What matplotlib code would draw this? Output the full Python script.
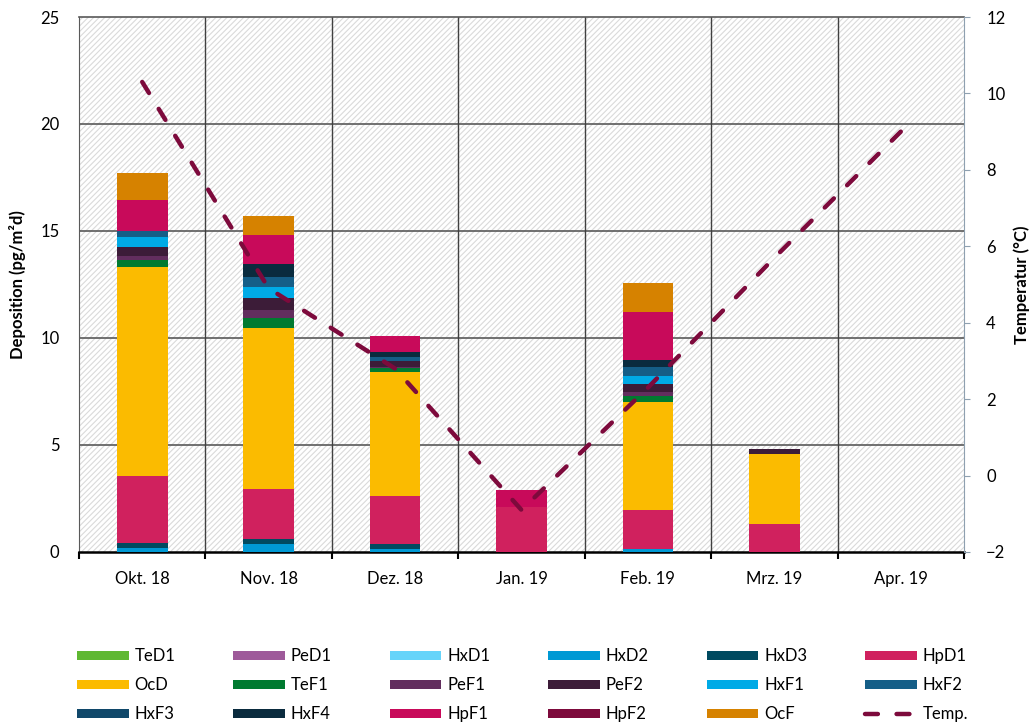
import numpy as np
import matplotlib
matplotlib.use('Agg')
import matplotlib.pyplot as plt
from matplotlib.patches import Patch, Rectangle
from matplotlib.lines import Line2D

plt.rcParams['font.family'] = ['Lato', 'DejaVu Sans']
plt.rcParams['hatch.linewidth'] = 0.8
plt.rcParams['hatch.color'] = '#dadada'

months = ['Okt. 18', 'Nov. 18', 'Dez. 18', 'Jan. 19', 'Feb. 19', 'Mrz. 19', 'Apr. 19']

# Deposition (pg/m²d), one list per congener, stacked bottom to top
TeD1 = [0.0, 0.0, 0.0, 0.0, 0.0, 0.0, 0.0]
PeD1 = [0.0, 0.0, 0.0, 0.0, 0.0, 0.0, 0.0]
HxD1 = [0.0, 0.0, 0.0, 0.0, 0.0, 0.0, 0.0]
HxD2 = [0.20, 0.39, 0.16, 0.0, 0.13, 0.0, 0.0]
HxD3 = [0.21, 0.20, 0.20, 0.0, 0.0, 0.0, 0.0]
HpD1 = [3.12, 2.34, 2.25, 2.11, 1.82, 1.33, 0.0]
OcD = [9.78, 7.55, 5.80, 0.0, 5.04, 3.24, 0.0]
TeF1 = [0.33, 0.47, 0.18, 0.0, 0.31, 0.0, 0.0]
PeF1 = [0.19, 0.36, 0.04, 0.0, 0.19, 0.0, 0.0]
PeF2 = [0.44, 0.58, 0.28, 0.0, 0.36, 0.24, 0.0]
HxF1 = [0.44, 0.50, 0.0, 0.0, 0.38, 0.0, 0.0]
HxF2 = [0.31, 0.48, 0.22, 0.0, 0.43, 0.0, 0.0]
HxF3 = [0.0, 0.0, 0.0, 0.0, 0.0, 0.0, 0.0]
HxF4 = [0.0, 0.59, 0.21, 0.0, 0.31, 0.0, 0.0]
HpF1 = [1.42, 1.36, 0.77, 0.78, 2.24, 0.0, 0.0]
HpF2 = [0.0, 0.0, 0.0, 0.0, 0.0, 0.0, 0.0]
OcF = [1.25, 0.89, 0.0, 0.0, 1.36, 0.0, 0.0]

temp = [10.3, 4.9, 2.8, -0.9, 2.3, 5.7, 9.0]

names = ['TeD1', 'PeD1', 'HxD1', 'HxD2', 'HxD3', 'HpD1', 'OcD', 'TeF1', 'PeF1',
         'PeF2', 'HxF1', 'HxF2', 'HxF3', 'HxF4', 'HpF1', 'HpF2', 'OcF']
series = [TeD1, PeD1, HxD1, HxD2, HxD3, HpD1, OcD, TeF1, PeF1,
          PeF2, HxF1, HxF2, HxF3, HxF4, HpF1, HpF2, OcF]
colors = ['#5fb832', '#9e5a9a', '#66d4fa', '#0099d4', '#004a60', '#d0215e',
          '#fbbb00', '#007a30', '#622e5e', '#3c1c38', '#00aae6', '#155e87',
          '#10486a', '#0a2b3e', '#c80a5a', '#7d0a3c', '#d68200']
temp_color = '#7d0a3c'

fig = plt.figure(figsize=(10.35, 7.27), dpi=100)
ax = fig.add_axes([79/1035, 1-552/727, (964-79)/1035, (552-17)/727])
x = np.arange(len(months))

# hatched plot background
ax.add_patch(Rectangle((0, 0), 1, 1, transform=ax.transAxes, facecolor='white',
                       edgecolor='#dadada', hatch='//////', lw=0, zorder=0))

bottom = np.zeros(len(months))
for name, vals, c in zip(names, series, colors):
    ax.bar(x, vals, 0.4, bottom=bottom, color=c, zorder=3)
    bottom += np.array(vals)

ax.set_xlim(-0.5, 6.5)
ax.set_ylim(0, 25)
ax.set_yticks([0, 5, 10, 15, 20, 25])
for yv in [5, 10, 15, 20]:
    ax.axhline(yv, color='#595959', lw=1.2, zorder=1)
for xv in np.arange(0.5, 6.5, 1):
    ax.axvline(xv, color='#404040', lw=1.0, zorder=1)
ax.set_xticks(x)
ax.set_xticklabels(months)
ax.set_xticks(np.arange(-0.5, 7.0, 1), minor=True)
ax.tick_params(axis='x', which='major', length=0, labelsize=12, pad=14)
ax.tick_params(axis='x', which='minor', length=5, width=1.5, color='black', direction='out')
ax.tick_params(axis='y', length=0, labelsize=12, pad=14)
ax.spines['bottom'].set_color('black')
ax.spines['bottom'].set_linewidth(1.8)
ax.spines['left'].set_color('#595959')
ax.spines['top'].set_color('#595959')
ax.spines['top'].set_linewidth(1.2)
ax.spines['right'].set_visible(False)
ax.set_ylabel('Deposition (pg/m²d)', fontsize=12, fontweight='bold', labelpad=10)

ax2 = ax.twinx()
ax2.plot(x, temp, color=temp_color, lw=3.2, dashes=(2.9, 4.2),
         dash_capstyle='round', zorder=5)
ax2.set_ylim(-2, 12)
ax2.set_yticks(np.arange(-2, 13, 2))
ax2.tick_params(axis='y', length=4, color='#8ea0b0', labelsize=12, pad=12)
for s in ['left', 'top', 'bottom']:
    ax2.spines[s].set_visible(False)
ax2.spines['right'].set_color('#8ea0b0')
ax2.set_ylabel('Temperatur (°C)', fontsize=12, fontweight='bold', labelpad=6)

handles = [Patch(facecolor=c, edgecolor='none') for c in colors]
handles.append(Line2D([0], [0], color=temp_color, lw=3.2, dashes=(2.9, 4.2),
                      dash_capstyle='round'))
labels = names + ['Temp.']
ncol, nrow = 6, 3
order = [r*ncol + c for c in range(ncol) for r in range(nrow)]
fig.legend([handles[i] for i in order], [labels[i] for i in order],
           ncol=ncol, loc='upper left', mode='expand', frameon=False,
           bbox_to_anchor=(77/1035, 0.0, (968-77)/1035, 0.108),
           bbox_transform=fig.transFigure, fontsize=12, borderpad=0,
           borderaxespad=0, handlelength=3.1, handleheight=0.5,
           handletextpad=0.35, labelspacing=0.78, columnspacing=1.0)

fig.savefig('out.png', dpi=100)
